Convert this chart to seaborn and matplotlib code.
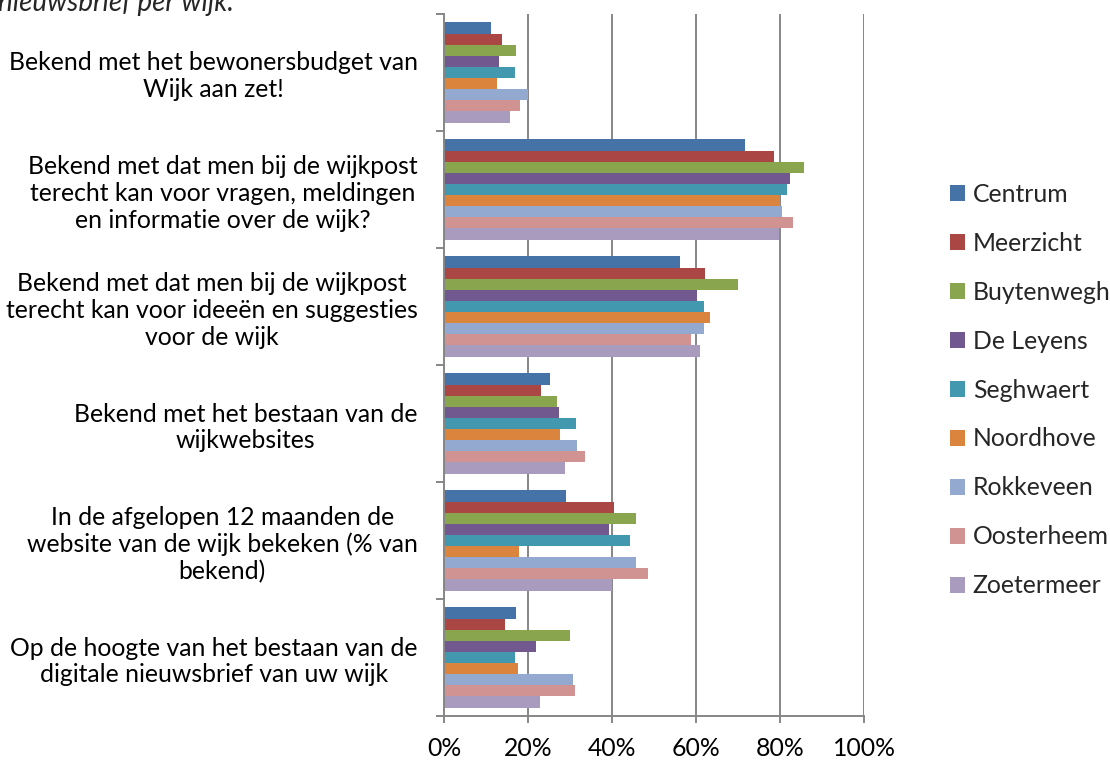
import matplotlib
matplotlib.use("Agg")
import matplotlib.pyplot as plt
import seaborn as sns
import pandas as pd
import numpy as np
from matplotlib.ticker import FixedLocator, PercentFormatter

categories = [
    "Bekend met het bewonersbudget van\nWijk aan zet!",
    "Bekend met dat men bij de wijkpost\nterecht kan voor vragen, meldingen\nen informatie over de wijk?",
    "Bekend met dat men bij de wijkpost\nterecht kan voor ideeën en suggesties\nvoor de wijk",
    "Bekend met het bestaan van de\nwijkwebsites",
    "In de afgelopen 12 maanden de\nwebsite van de wijk bekeken (% van\nbekend)",
    "Op de hoogte van het bestaan van de\ndigitale nieuwsbrief van uw wijk",
]
wijken = ["Centrum", "Meerzicht", "Buytenwegh", "De Leyens", "Seghwaert",
          "Noordhove", "Rokkeveen", "Oosterheem", "Zoetermeer"]

centrum    = [11.3, 71.6, 56.3, 25.2, 29.1, 17.2]
meerzicht  = [13.8, 78.6, 62.2, 23.2, 40.5, 14.5]
buytenwegh = [17.1, 85.8, 70.0, 26.8, 45.8, 30.0]
de_leyens  = [13.2, 82.3, 60.2, 27.4, 39.4, 21.8]
seghwaert  = [17.0, 81.7, 62.0, 31.4, 44.2, 17.0]
noordhove  = [12.5, 80.1, 63.3, 27.5, 17.9, 17.5]
rokkeveen  = [20.1, 80.5, 62.0, 31.7, 45.6, 30.7]
oosterheem = [18.0, 83.2, 58.7, 33.5, 48.6, 31.3]
zoetermeer = [15.7, 79.7, 61.0, 28.7, 39.9, 22.8]

series = [centrum, meerzicht, buytenwegh, de_leyens, seghwaert,
          noordhove, rokkeveen, oosterheem, zoetermeer]
colors = ["#4572A7", "#AA4643", "#89A54E", "#71588F", "#4198AF",
          "#DB843D", "#93A9CF", "#D19392", "#A99BBD"]

rows = []
for w, vals in zip(wijken, series):
    for c, v in zip(categories, vals):
        rows.append({"categorie": c, "wijk": w, "waarde": v})
df = pd.DataFrame(rows)

sns.set_style("white")
plt.rcParams["font.family"] = ["Lato", "DejaVu Sans"]

fs = 17.8
fig = plt.figure(figsize=(11.1, 7.61), dpi=100)
ax = fig.add_axes([444 / 1110, 1 - 716 / 761, 420 / 1110, 702 / 761])

sns.barplot(data=df, y="categorie", x="waarde", hue="wijk", order=categories,
            hue_order=wijken, palette=colors, orient="h", width=0.855, gap=0,
            linewidth=0, saturation=1, ax=ax, legend=True)

grid_col = "#868686"
ax.set_xlim(0, 100)
ax.set_ylim(5.5, -0.5)
ax.set_xticks([0, 20, 40, 60, 80, 100])
ax.xaxis.set_major_formatter(PercentFormatter(decimals=0))
ax.set_axisbelow(True)
for x in [20, 40, 60, 80, 100]:
    ax.axvline(x, color=grid_col, lw=1.4, zorder=0)
ax.set_xlabel("")
ax.set_ylabel("")

for s in ["top", "right"]:
    ax.spines[s].set_visible(False)
for s in ["left", "bottom"]:
    ax.spines[s].set_color(grid_col)
    ax.spines[s].set_linewidth(1.4)

ax.tick_params(axis="x", which="major", direction="out", length=5, width=1.4,
               color=grid_col, pad=10, labelsize=fs, labelcolor="black", bottom=True)
ax.tick_params(axis="y", which="major", length=0, pad=19, labelsize=fs,
               labelcolor="black", left=True)
ax.yaxis.set_minor_locator(FixedLocator(np.arange(-0.5, 6.0, 1.0)))
ax.tick_params(axis="y", which="minor", direction="out", length=6, width=1.4,
               color=grid_col, left=True)
for lbl in ax.get_yticklabels():
    lbl.set_multialignment("center")
    lbl.set_linespacing(1.2)

handles, labels = ax.get_legend_handles_labels()
ax.get_legend().remove()
fig.legend(handles, labels, loc="center left", bbox_to_anchor=(950 / 1110, 1 - 390 / 761),
           frameon=False, fontsize=fs, handlelength=0.62, handleheight=0.62,
           handletextpad=0.3, labelspacing=1.05, borderpad=0, borderaxespad=0)

fig.text(-0.002, 1 - 11 / 761, "nieuwsbrief per wijk.", style="italic", fontsize=20,
         ha="left", va="baseline")

fig.savefig("out.png", dpi=100)
